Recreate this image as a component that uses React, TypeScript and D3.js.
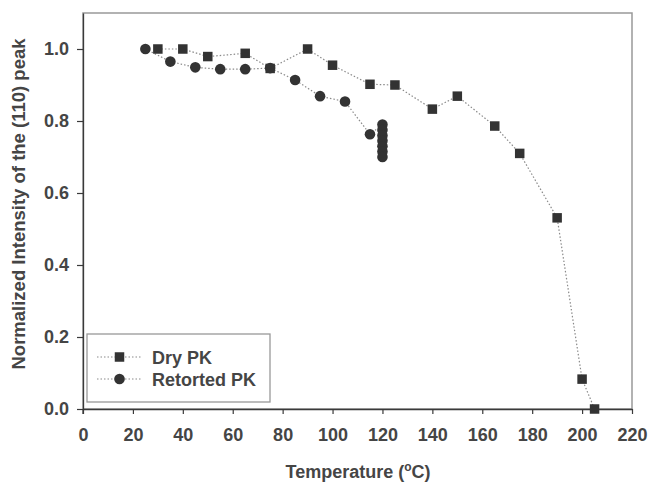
import React, { useRef, useEffect } from 'react'
import * as d3 from 'd3'

// Dry PK (squares)
const dryTemp = [30, 40, 50, 65, 75, 90, 100, 115, 125, 140, 150, 165, 175, 190, 200, 205]
const dryIntensity = [1.0, 1.0, 0.979, 0.988, 0.946, 1.0, 0.955, 0.902, 0.9, 0.833, 0.869, 0.786, 0.71, 0.531, 0.083, 0.0]

// Retorted PK (circles)
const retTemp = [25, 35, 45, 55, 65, 75, 85, 95, 105, 115, 120, 120, 120, 120, 120, 120, 120]
const retIntensity = [1.0, 0.965, 0.949, 0.944, 0.944, 0.947, 0.914, 0.869, 0.854, 0.763, 0.79, 0.775, 0.76, 0.745, 0.73, 0.715, 0.7]

const xTicks = d3.range(0, 221, 20)
const yTicks = [0, 0.2, 0.4, 0.6, 0.8, 1.0]
const seriesNames = ['Dry PK', 'Retorted PK']

function App() {
  const svgRef = useRef(null)

  useEffect(() => {
    const svg = d3.select(svgRef.current)
    svg.selectAll('*').remove()

    const width = 650
    const height = 482
    const margin = { left: 83, right: 18, top: 13, bottom: 73 }
    const ink = '#3a3a3a'
    const textColor = '#454545'
    const font = 'Liberation Sans, Arial, sans-serif'
    const fontSize = '18px'

    const x = d3.scaleLinear().domain([0, 220]).range([margin.left, width - margin.right])
    const y = d3.scaleLinear().domain([0, 1.1]).range([height - margin.bottom, margin.top])

    //frame (top + right lighter)
    svg
      .append('rect')
      .attr('x', x(0))
      .attr('y', y(1.1))
      .attr('width', x(220) - x(0))
      .attr('height', y(0) - y(1.1))
      .attr('fill', 'none')
      .attr('stroke', '#999')
      .attr('stroke-width', 1.5)

    //x axis
    const xAxis = svg
      .append('g')
      .attr('transform', `translate(0,${y(0)})`)
      .call(d3.axisBottom(x).tickValues(xTicks).tickSize(5).tickPadding(14).tickSizeOuter(0))
    //y axis
    const yAxis = svg
      .append('g')
      .attr('transform', `translate(${x(0)},0)`)
      .call(
        d3
          .axisLeft(y)
          .tickValues(yTicks)
          .tickFormat(d3.format('.1f'))
          .tickSize(6)
          .tickPadding(8)
          .tickSizeOuter(0)
      )
    ;[xAxis, yAxis].forEach((g) => {
      g.select('.domain').attr('stroke', ink).attr('stroke-width', 1.3)
      g.selectAll('.tick line').attr('stroke', ink).attr('stroke-width', 1.2)
      g.selectAll('.tick text')
        .attr('fill', textColor)
        .style('font-family', font)
        .style('font-size', fontSize)
        .style('font-weight', 'bold')
    })
    //y domain a bit below 0
    svg
      .append('line')
      .attr('x1', x(0))
      .attr('x2', x(0))
      .attr('y1', y(0))
      .attr('y2', y(0) + 5)
      .attr('stroke', ink)
      .attr('stroke-width', 1.3)

    //axis titles
    const xt = svg
      .append('text')
      .attr('x', 358)
      .attr('y', 478)
      .attr('text-anchor', 'middle')
      .attr('fill', textColor)
      .style('font-family', font)
      .style('font-size', fontSize)
      .style('font-weight', 'bold')
    xt.append('tspan').text('Temperature (')
    xt.append('tspan').attr('dy', -7).style('font-size', '12px').text('o')
    xt.append('tspan').attr('dy', 7).text('C)')

    svg
      .append('text')
      .attr('transform', `translate(25,${(y(0) + y(1.1)) / 2 - 7}) rotate(-90)`)
      .attr('text-anchor', 'middle')
      .attr('fill', textColor)
      .style('font-family', font)
      .style('font-size', '18.5px')
      .style('font-weight', 'bold')
      .text('Normalized Intensity of the (110) peak')

    const lineColor = '#8a8a8a'
    const markerColor = '#333'

    const dry = dryTemp.map((t, i) => [x(t), y(dryIntensity[i])] as [number, number])
    const ret = retTemp.map((t, i) => [x(t), y(retIntensity[i])] as [number, number])
    const path = d3.line()

    ;[ret, dry].forEach((pts) => {
      svg
        .append('path')
        .attr('d', path(pts))
        .attr('fill', 'none')
        .attr('stroke', lineColor)
        .attr('stroke-width', 1.2)
        .attr('stroke-dasharray', '1.5,2')
    })

    //markers
    svg
      .append('g')
      .selectAll('circle')
      .data(ret)
      .join('circle')
      .attr('cx', (d) => d[0])
      .attr('cy', (d) => d[1])
      .attr('r', 5.3)
      .attr('fill', markerColor)

    const sq = 9.5
    svg
      .append('g')
      .selectAll('rect')
      .data(dry)
      .join('rect')
      .attr('x', (d) => d[0] - sq / 2)
      .attr('y', (d) => d[1] - sq / 2)
      .attr('width', sq)
      .attr('height', sq)
      .attr('fill', markerColor)

    //legend
    const legend = svg.append('g')
    legend
      .append('rect')
      .attr('x', 87)
      .attr('y', 334)
      .attr('width', 183)
      .attr('height', 68)
      .attr('fill', '#fff')
      .attr('stroke', '#999')
      .attr('stroke-width', 1.3)
    seriesNames.forEach((name, i) => {
      const ly = 357 + i * 22
      legend
        .append('line')
        .attr('x1', 97)
        .attr('x2', 142)
        .attr('y1', ly)
        .attr('y2', ly)
        .attr('stroke', lineColor)
        .attr('stroke-width', 1.2)
        .attr('stroke-dasharray', '1.5,2')
      if (i === 0) {
        legend
          .append('rect')
          .attr('x', 119.5 - sq / 2)
          .attr('y', ly - sq / 2)
          .attr('width', sq)
          .attr('height', sq)
          .attr('fill', markerColor)
      } else {
        legend.append('circle').attr('cx', 119.5).attr('cy', ly).attr('r', 5.3).attr('fill', markerColor)
      }
      legend
        .append('text')
        .attr('x', 152)
        .attr('y', ly + 6.5)
        .attr('fill', textColor)
        .style('font-family', font)
        .style('font-size', fontSize)
        .style('font-weight', 'bold')
        .text(name)
    })
  }, [])

  return (
    <div style={{ position: 'absolute', left: 0, top: 0 }}>
      <svg ref={svgRef} width={650} height={482} style={{ display: 'block', background: '#fff' }} />
    </div>
  )
}

export default App
